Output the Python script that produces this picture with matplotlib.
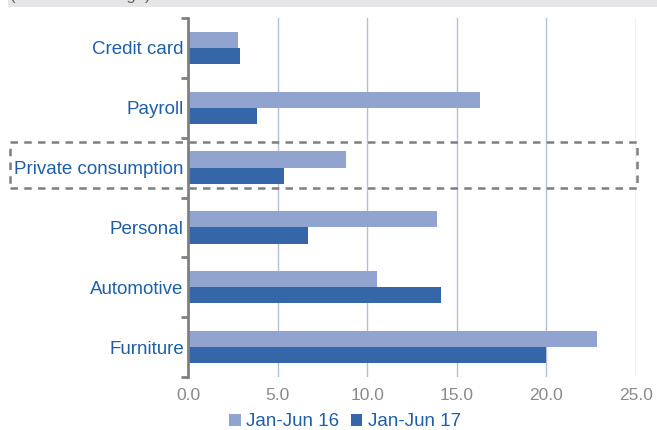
import matplotlib
matplotlib.use("Agg")
import matplotlib.pyplot as plt
from matplotlib.patches import Rectangle
import numpy as np

plt.rcParams['font.family'] = ['Liberation Sans', 'DejaVu Sans']

categories = ["Credit card", "Payroll", "Private consumption", "Personal", "Automotive", "Furniture"]
jan_jun_16 = [2.8, 16.3, 8.8, 13.9, 10.55, 22.8]
jan_jun_17 = [2.9, 3.85, 5.35, 6.7, 14.1, 20.0]
x_ticks = [0, 5, 10, 15, 20, 25]
x_tick_labels = ["0.0", "5.0", "10.0", "15.0", "20.0", "25.0"]
series_names = ["Jan-Jun 16", "Jan-Jun 17"]

light = "#91a3cf"
dark = "#3567a8"
label_blue = "#1f5fa8"
grid_col = "#b4bedc"

fig = plt.figure(figsize=(6.57, 4.30), dpi=100)
ax = fig.add_axes([188 / 657, 1 - 377 / 430, (636 - 188) / 657, (377 - 18) / 430])

n = len(categories)
y = np.arange(n)
h = 0.27
b1 = ax.barh(y - h / 2, jan_jun_16, height=h, color=light, label=series_names[0], zorder=3)
b2 = ax.barh(y + h / 2, jan_jun_17, height=h, color=dark, label=series_names[1], zorder=3)

ax.set_ylim(n - 0.5, -0.5)
ax.set_xlim(0, 25)
ax.set_xticks(x_ticks)
ax.set_xticklabels(x_tick_labels, color="#8a8a8a", fontsize=12.5)
ax.tick_params(axis="x", length=0, pad=8)

# category labels, with separator ticks on the boundaries
ax.set_yticks(y)
ax.set_yticklabels(categories, color=label_blue, fontsize=13.5)
ax.tick_params(axis="y", which="major", length=0, pad=3)
ax.set_yticks(np.arange(-0.5, n, 1), minor=True)
ax.tick_params(axis="y", which="minor", length=5, width=2, color="#808080", direction="out")

for s in ["top", "right", "bottom"]:
    ax.spines[s].set_visible(False)
ax.spines["left"].set_color("#808080")
ax.spines["left"].set_linewidth(2)
ax.spines["left"].set_zorder(4)

for xv in x_ticks[1:]:
    ax.axvline(xv, color=grid_col, linewidth=1, zorder=1)

# highlight box around private consumption
fig.patches.append(Rectangle((10 / 657, 1 - 188 / 430), (637 - 10) / 657, (188 - 142) / 430,
                             transform=fig.transFigure, fill=False, edgecolor="#7f7f7f",
                             linestyle=(0, (3, 2.5)), linewidth=1.8, zorder=10))

# header band (its text runs off the top edge)
fig.patches.append(Rectangle((8 / 657, 1 - 7 / 430), 1, 7 / 430, transform=fig.transFigure,
                             facecolor="#e6e6e8", edgecolor="none", zorder=0))
fig.text(10 / 657, 1 + 0.5 / 430, "(annual % change)", fontsize=12, color="#606060",
         va="baseline", ha="left")

leg = fig.legend(handles=[b1, b2], loc="center", bbox_to_anchor=(345 / 657, 1 - 422 / 430),
                 ncol=2, frameon=False, fontsize=13.5, handlelength=0.6, handleheight=0.6,
                 handletextpad=0.3, columnspacing=0.6)
for t in leg.get_texts():
    t.set_color(label_blue)

fig.savefig("out.png", dpi=100)
